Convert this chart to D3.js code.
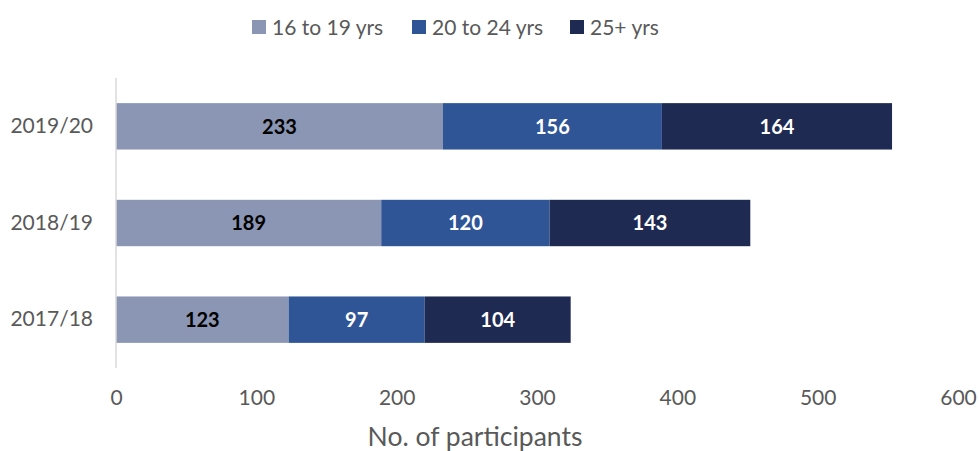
<!DOCTYPE html>
<html>
<head>
<meta charset="utf-8">
<script src="https://cdn.jsdelivr.net/npm/d3@7"></script>
<style>
  body { margin: 0; background: #fff; }
  svg { display: block; font-family: Lato, "Open Sans", sans-serif; }
</style>
</head>
<body>
<svg id="chart" width="979" height="451"></svg>
<script>
// Participants by age group per year
const years = ["2019/20", "2018/19", "2017/18"];
const seriesNames = ["16 to 19 yrs", "20 to 24 yrs", "25+ yrs"];
const age16to19 = [233, 189, 123];
const age20to24 = [156, 120, 97];
const age25plus = [164, 143, 104];
const xTicks = [0, 100, 200, 300, 400, 500, 600];
const colors = ["#8a96b3", "#2f5597", "#1f2a52"];
const labelColors = ["#000000", "#ffffff", "#ffffff"];

const rows = years.map((y, i) => ({
  year: y,
  "16 to 19 yrs": age16to19[i],
  "20 to 24 yrs": age20to24[i],
  "25+ yrs": age25plus[i]
}));

const svg = d3.select("#chart");
const margin = { left: 116, right: 21, top: 78, bottom: 83 };
const width = 979, height = 451;
const font = "Lato, 'Open Sans', sans-serif";

const x = d3.scaleLinear().domain([0, 600]).range([margin.left, width - margin.right]);
const y = d3.scaleBand().domain(years)
  .range([margin.top, height - margin.bottom])
  .paddingInner(0.52).paddingOuter(0.26);

const stack = d3.stack().keys(seriesNames)(rows);

// Stacked bars
const groups = svg.append("g").selectAll("g").data(stack).join("g")
  .attr("fill", (d, i) => colors[i]);

groups.selectAll("rect").data(d => d).join("rect")
  .attr("x", d => x(d[0]))
  .attr("y", d => y(d.data.year))
  .attr("width", d => x(d[1]) - x(d[0]))
  .attr("height", y.bandwidth());

// Value labels centred in each segment
svg.append("g").selectAll("g").data(stack).join("g")
  .attr("fill", (d, i) => labelColors[i])
  .selectAll("text").data(d => d.map(v => ({ v, key: d.key }))).join("text")
  .attr("x", d => (x(d.v[0]) + x(d.v[1])) / 2)
  .attr("y", d => y(d.v.data.year) + y.bandwidth() / 2)
  .attr("dy", "0.36em")
  .attr("text-anchor", "middle")
  .attr("font-size", 20)
  .attr("font-weight", "bold")
  .text(d => d.v.data[d.key]);

// Vertical category axis line
svg.append("line")
  .attr("x1", x(0)).attr("x2", x(0))
  .attr("y1", margin.top).attr("y2", height - margin.bottom)
  .attr("stroke", "#d9d9d9").attr("stroke-width", 1.5);

// Category labels
const yAxis = svg.append("g")
  .attr("transform", `translate(${x(0) - 23},0)`)
  .call(d3.axisLeft(y).tickSize(0).tickPadding(0));
yAxis.select(".domain").remove();
yAxis.selectAll("text")
  .attr("font-size", 21).attr("fill", "#595959")
  .style("font-family", font);

// Value axis tick labels
const xAxis = svg.append("g")
  .attr("transform", `translate(0,${height - margin.bottom + 22})`)
  .call(d3.axisBottom(x).tickValues(xTicks).tickSize(0).tickPadding(0));
xAxis.select(".domain").remove();
xAxis.selectAll("text")
  .attr("font-size", 21).attr("fill", "#595959")
  .style("font-family", font);

// Axis title
svg.append("text")
  .attr("x", 475).attr("y", 446)
  .attr("text-anchor", "middle")
  .attr("font-size", 26.5).attr("fill", "#595959")
  .text("No. of participants");

// Legend
const legendX = [252, 412, 570];
const legend = svg.append("g").selectAll("g").data(seriesNames).join("g")
  .attr("transform", (d, i) => `translate(${legendX[i]},27)`);
legend.append("rect")
  .attr("x", 0).attr("y", -7).attr("width", 14).attr("height", 14)
  .attr("fill", (d, i) => colors[i]);
legend.append("text")
  .attr("x", 20).attr("dy", "0.36em")
  .attr("font-size", 21).attr("fill", "#595959")
  .text(d => d);
</script>
</body>
</html>
